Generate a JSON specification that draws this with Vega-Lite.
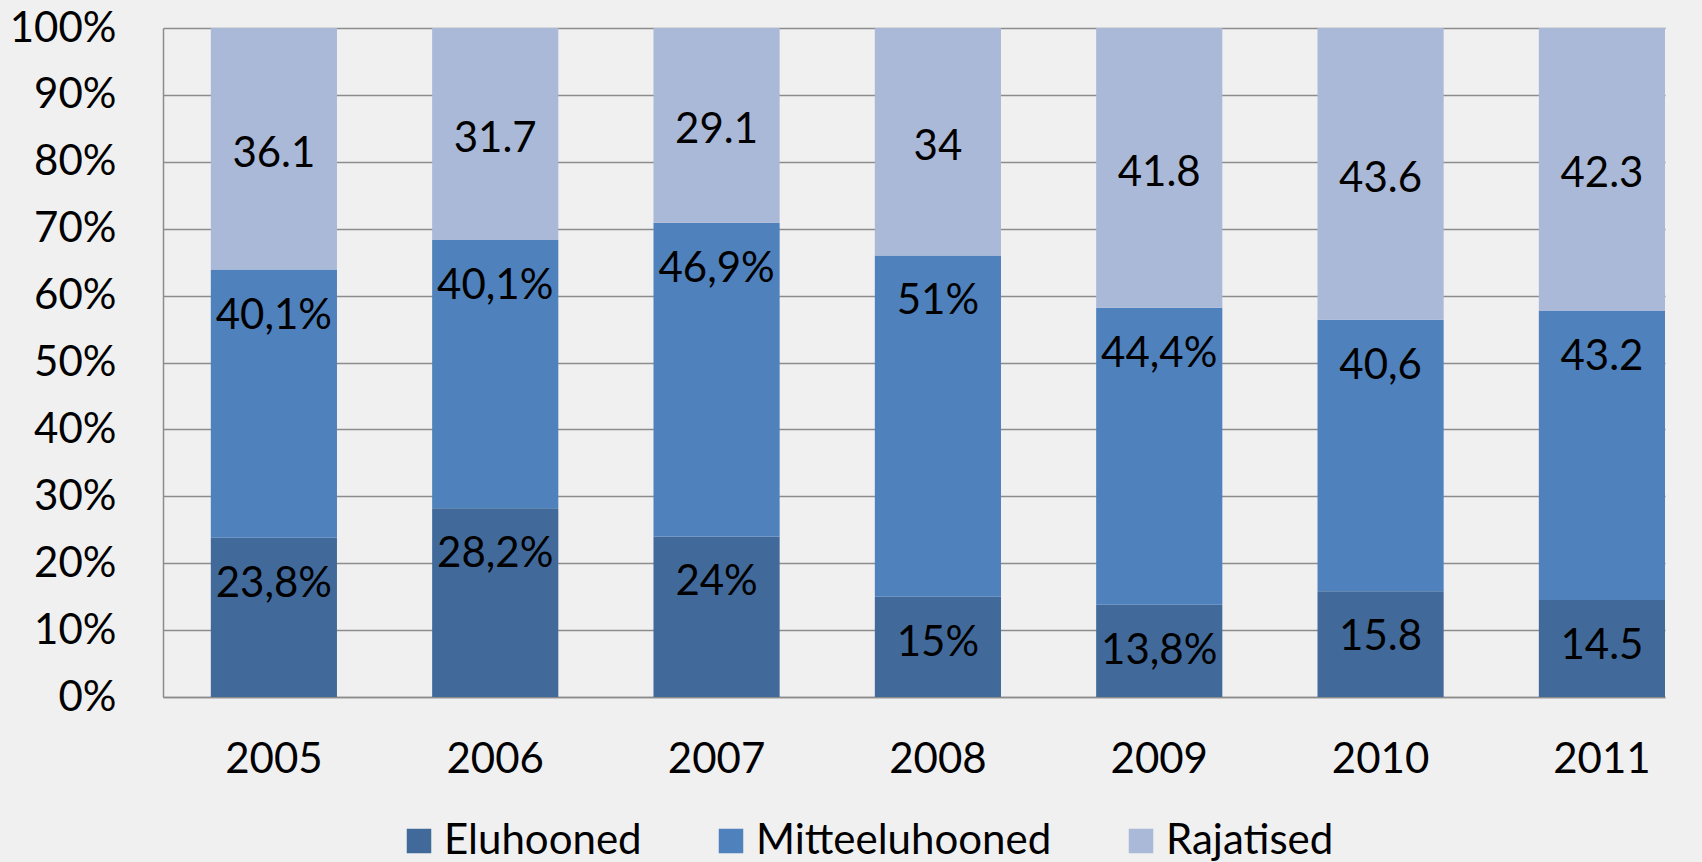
{
  "$schema": "https://vega.github.io/schema/vega-lite/v6.json",
  "width": 1502,
  "height": 669,
  "autosize": {"type": "none"},
  "padding": {"left": 163, "top": 28, "right": 37, "bottom": 165},
  "background": "#F0F0F0",
  "config": {
    "view": {"stroke": null, "fill": "#F0F0F0"},
    "font": "Lato",
    "axis": {
      "labelFont": "Lato",
      "labelFontSize": 42,
      "labelColor": "#000000",
      "ticks": false,
      "tickSize": 0,
      "domainColor": "#8C8C8C",
      "domainWidth": 1.5,
      "gridColor": "#8C8C8C",
      "gridWidth": 1.5,
      "title": null
    },
    "axisX": {"grid": false, "labelPadding": 42, "labelAngle": 0},
    "axisY": {"grid": true, "labelPadding": 47},
    "legend": {
      "orient": "none",
      "legendX": 235,
      "legendY": 792,
      "direction": "horizontal",
      "title": null,
      "padding": 0,
      "symbolType": "square",
      "symbolSize": 600,
      "symbolStrokeWidth": 0,
      "symbolOpacity": 1,
      "labelFont": "Lato",
      "labelFontSize": 42,
      "labelColor": "#000000",
      "labelOffset": 4,
      "labelLimit": 0,
      "columnPadding": 68
    }
  },
  "data": {
    "values": [
      {"year": "2005", "cat": "Eluhooned", "value": 23.8, "label": "23,8%"},
      {"year": "2005", "cat": "Mitteeluhooned", "value": 40.1, "label": "40,1%"},
      {"year": "2005", "cat": "Rajatised", "value": 36.1, "label": "36.1"},
      {"year": "2006", "cat": "Eluhooned", "value": 28.2, "label": "28,2%"},
      {"year": "2006", "cat": "Mitteeluhooned", "value": 40.1, "label": "40,1%"},
      {"year": "2006", "cat": "Rajatised", "value": 31.7, "label": "31.7"},
      {"year": "2007", "cat": "Eluhooned", "value": 24, "label": "24%"},
      {"year": "2007", "cat": "Mitteeluhooned", "value": 46.9, "label": "46,9%"},
      {"year": "2007", "cat": "Rajatised", "value": 29.1, "label": "29.1"},
      {"year": "2008", "cat": "Eluhooned", "value": 15, "label": "15%"},
      {"year": "2008", "cat": "Mitteeluhooned", "value": 51, "label": "51%"},
      {"year": "2008", "cat": "Rajatised", "value": 34, "label": "34"},
      {"year": "2009", "cat": "Eluhooned", "value": 13.8, "label": "13,8%"},
      {"year": "2009", "cat": "Mitteeluhooned", "value": 44.4, "label": "44,4%"},
      {"year": "2009", "cat": "Rajatised", "value": 41.8, "label": "41.8"},
      {"year": "2010", "cat": "Eluhooned", "value": 15.8, "label": "15.8"},
      {"year": "2010", "cat": "Mitteeluhooned", "value": 40.6, "label": "40,6"},
      {"year": "2010", "cat": "Rajatised", "value": 43.6, "label": "43.6"},
      {"year": "2011", "cat": "Eluhooned", "value": 14.5, "label": "14.5"},
      {"year": "2011", "cat": "Mitteeluhooned", "value": 43.2, "label": "43.2"},
      {"year": "2011", "cat": "Rajatised", "value": 42.3, "label": "42.3"}
    ]
  },
  "transform": [
    {
      "stack": "value",
      "groupby": ["year"],
      "sort": [{"field": "cat", "order": "ascending"}],
      "offset": "normalize",
      "as": ["y0", "y1"]
    }
  ],
  "encoding": {
    "x": {
      "field": "year",
      "type": "nominal",
      "scale": {"paddingInner": 0.43, "paddingOuter": 0.108, "align": 1},
      "axis": {"title": null}
    }
  },
  "layer": [
    {
      "mark": {"type": "bar"},
      "encoding": {
        "y": {
          "field": "y0",
          "type": "quantitative",
          "scale": {"domain": [0, 1]},
          "axis": {"format": ".0%", "tickCount": 10, "title": null}
        },
        "y2": {"field": "y1"},
        "color": {
          "field": "cat",
          "type": "nominal",
          "scale": {
            "domain": ["Eluhooned", "Mitteeluhooned", "Rajatised"],
            "range": ["#416A9B", "#4F81BD", "#AAB9D7"]
          }
        }
      }
    },
    {
      "transform": [{"filter": "datum.cat != 'Rajatised'"}],
      "mark": {"type": "text", "dy": 46, "fontSize": 42, "font": "Lato", "color": "#000000", "baseline": "middle"},
      "encoding": {
        "y": {
          "field": "y1",
          "type": "quantitative",
          "axis": {"format": ".0%", "tickCount": 10, "title": null}
        },
        "text": {"field": "label"}
      }
    },
    {
      "transform": [
        {"filter": "datum.cat == 'Rajatised'"},
        {"fold": ["y0", "y1"], "as": ["k", "v"]}
      ],
      "mark": {"type": "text", "dy": 5, "fontSize": 42, "font": "Lato", "color": "#000000", "baseline": "middle"},
      "encoding": {
        "y": {
          "aggregate": "mean",
          "field": "v",
          "type": "quantitative",
          "axis": {"format": ".0%", "tickCount": 10, "title": null}
        },
        "text": {"field": "label"}
      }
    }
  ]
}
